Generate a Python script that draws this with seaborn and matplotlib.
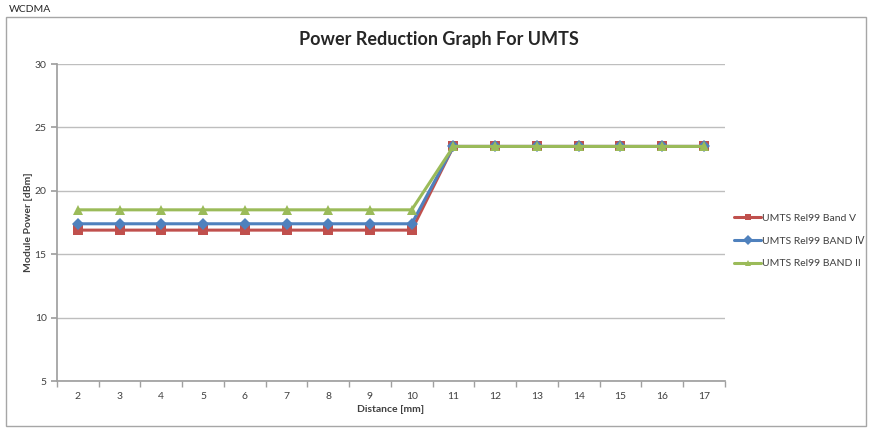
import pandas as pd
import matplotlib.pyplot as plt
import seaborn as sns
from matplotlib.patches import Rectangle
from matplotlib.ticker import MultipleLocator

# Données
distance = list(range(2, 18))
band_v = [16.9] * 9 + [23.5] * 7
band_iv = [17.4] * 9 + [23.5] * 7
band_ii = [18.5] * 9 + [23.5] * 7
series_names = ["UMTS Rel99 Band V", "UMTS Rel99 BAND Ⅳ", "UMTS Rel99 BAND II"]

df = pd.DataFrame({
    "Distance": distance * 3,
    "Power": band_v + band_iv + band_ii,
    "Serie": [series_names[0]] * 16 + [series_names[1]] * 16 + [series_names[2]] * 16,
})

sns.set_theme(style="white")
plt.rcParams["font.family"] = ["Lato", "DejaVu Sans"]

fig = plt.figure(figsize=(8.7, 4.34), dpi=100)
ax = fig.add_axes([0.0655, 0.1221, 0.7675, 0.7304])

palette = {series_names[0]: "#C0504D", series_names[1]: "#4F81BD", series_names[2]: "#9BBB59"}
markers = {series_names[0]: "s", series_names[1]: "D", series_names[2]: "^"}
sns.lineplot(data=df, x="Distance", y="Power", hue="Serie", style="Serie",
             palette=palette, markers=markers, dashes=False, linewidth=2.2,
             markersize=6.5, markeredgewidth=0, ax=ax)

ax.set_xlim(1.5, 17.5)
ax.set_ylim(5, 30)
ax.set_xticks(distance)
ax.set_xticklabels([str(d) for d in distance], fontsize=7.5, color="#404040")
ax.xaxis.set_minor_locator(MultipleLocator(1, offset=0.5))
ax.tick_params(axis="x", which="major", length=0, pad=8)
ax.tick_params(axis="x", which="minor", length=4, color="#A0A0A0", direction="out", bottom=True)
ax.set_yticks([5, 10, 15, 20, 25, 30])
ax.tick_params(axis="y", labelsize=7.5, labelcolor="#404040", length=4, color="#A0A0A0", direction="out", left=True)
ax.yaxis.grid(True, color="#BEBEBE", linewidth=1)
ax.set_axisbelow(True)
for side in ["top", "right"]:
    ax.spines[side].set_visible(False)
for side in ["left", "bottom"]:
    ax.spines[side].set_color("#A0A0A0")

ax.set_xlabel("Distance [mm]", fontsize=7.5, fontweight="bold", color="#404040", labelpad=3)
ax.set_ylabel("Module Power [dBm]", fontsize=7.5, fontweight="bold", color="#404040", labelpad=1)

leg = ax.legend(loc="center left", bbox_to_anchor=(1.0, 0.442), frameon=False,
                fontsize=7.5, handlelength=2.6, handletextpad=0.1, labelspacing=1.3)
for t in leg.get_texts():
    t.set_color("#404040")
for h in leg.legend_handles:
    h.set_markersize(5)

fig.text(0.505, 0.91, "Power Reduction Graph For UMTS", ha="center", va="center",
         fontsize=13, fontweight="bold", color="#262626")
fig.text(0.01, 0.979, "WCDMA", ha="left", va="center", fontsize=7.5, color="#262626")
fig.patches.append(Rectangle((6 / 870, 1 - 426 / 434), 860 / 870, 409 / 434,
                             transform=fig.transFigure, fill=False, edgecolor="#A6A6A6", linewidth=1))

plt.savefig("out.png", dpi=100)
